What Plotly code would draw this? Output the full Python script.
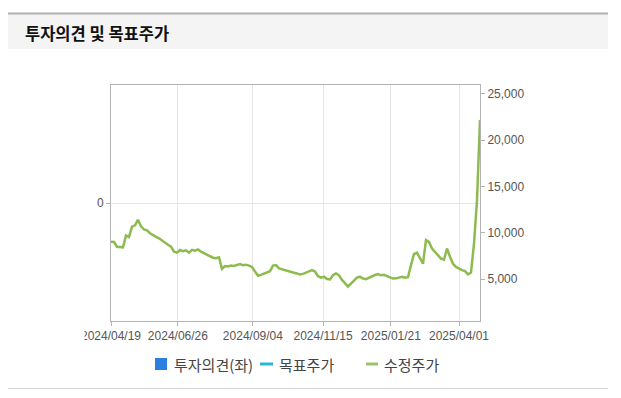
import plotly.graph_objects as go

# ---- data ----
price = [
    9030, 9000, 8490, 8450, 8420, 9700, 9550, 10650, 10800, 11400,
    10700, 10350, 10250, 9950, 9700, 9550, 9400, 9150, 9000, 8700,
    8500, 7950, 7850, 8135, 8000, 8100, 7850, 8150, 8050, 8200,
    7950, 7800, 7650, 7450, 7300, 7240, 7350, 6100, 6400, 6350,
    6450, 6400, 6510, 6620, 6500, 6550, 6450, 6300, 5800, 5350,
    5450, 5600, 5750, 5850, 6450, 6500, 6150, 6050, 5900, 5800,
    5750, 5680, 5600, 5480, 5550, 5700, 5850, 5950, 5800, 5300,
    5150, 5250, 5000, 4950, 5400, 5600, 5400, 4900, 4550, 4170,
    4500, 4850, 5150, 5250, 5050, 4980, 5150, 5250, 5430, 5540,
    5400, 5450, 5300, 5140, 5050, 5070, 5150, 5250, 5150, 5200,
    6500, 7700, 7850, 7200, 6650, 9200, 9000, 8300, 7900, 7500,
    7200, 7100, 8300, 7400, 6650, 6300, 6100, 5950, 5850, 5500,
    5700, 8800, 13500, 22200,
]
tick_pos = [0, 22.3, 47.3, 70.7, 93.3, 116]
tick_labels = ["2024/04/19", "2024/06/26", "2024/09/04", "2024/11/15", "2025/01/21", "2025/04/01"]
right_ticks = [5000, 10000, 15000, 20000, 25000]
legend_names = ["투자의견(좌)", "목표주가", "수정주가"]
title_text = "투자의견 및 목표주가"

idx = list(range(len(price)))

# ---- layout geometry ----
# the page body adds an 8px margin; reference pixel coords are converted below
OFF = 8
W, H = 621 - OFF, 398 - OFF
L, R, T, B = 111 - OFF, 480 - OFF, 85 - OFF, 321 - OFF
PW, PH = R - L, B - T


def xp(px):
    return (px - OFF - L) / PW


def yp(py):
    return (B - (py - OFF)) / PH


GREEN = "#8dbb4e"
BLUE = "#2b7fe0"
CYAN = "#2bb6d8"
AXC = "#b4b4b4"
GRID = "#e6e6e6"
TXT = "#555555"
NUMFONT = dict(family="Liberation Sans, Arial, sans-serif", size=12, color=TXT)
KRFONT = "Noto Sans CJK KR, sans-serif"

fig = go.Figure()
fig.add_trace(go.Scatter(x=[], y=[], yaxis="y", showlegend=False, name=legend_names[0]))
fig.add_trace(go.Scatter(
    x=idx, y=price, yaxis="y2", mode="lines", name=legend_names[2],
    line=dict(color=GREEN, width=2.5), showlegend=False,
    hovertemplate="%{y:,}<extra></extra>",
))

shapes = [
    # header band
    dict(type="rect", xref="paper", yref="paper", x0=xp(8), x1=xp(608), y0=yp(49), y1=yp(14),
         fillcolor="#f4f4f4", line=dict(width=0), layer="below"),
    dict(type="line", xref="paper", yref="paper", x0=xp(8), x1=xp(608), y0=yp(13.5), y1=yp(13.5),
         line=dict(color="#b0b0b0", width=2)),
    dict(type="line", xref="paper", yref="paper", x0=xp(8), x1=xp(608), y0=yp(388.5), y1=yp(388.5),
         line=dict(color="#d2d2d2", width=1)),
    # clip of the first date label as in the reference
    dict(type="rect", xref="paper", yref="paper", x0=xp(8), x1=xp(84.5), y0=yp(346), y1=yp(328),
         fillcolor="white", line=dict(width=0), layer="above"),
    # legend symbols
    dict(type="rect", xref="paper", yref="paper", x0=xp(155), x1=xp(167), y0=yp(370), y1=yp(358),
         fillcolor=BLUE, line=dict(width=0)),
    dict(type="line", xref="paper", yref="paper", x0=xp(260), x1=xp(273), y0=yp(364), y1=yp(364),
         line=dict(color=CYAN, width=3)),
    dict(type="line", xref="paper", yref="paper", x0=xp(366), x1=xp(378), y0=yp(364), y1=yp(364),
         line=dict(color="#9cc46a", width=3)),
]

annotations = [
    dict(text="<b>" + title_text + "</b>", xref="paper", yref="paper", x=xp(23), y=yp(33),
         xanchor="left", yanchor="middle", showarrow=False,
         font=dict(family=KRFONT, size=16.5, color="#111111")),
    dict(text=legend_names[0], xref="paper", yref="paper", x=xp(172), y=yp(364),
         xanchor="left", yanchor="middle", showarrow=False,
         font=dict(family=KRFONT, size=15, color="#444444")),
    dict(text=legend_names[1], xref="paper", yref="paper", x=xp(277), y=yp(364),
         xanchor="left", yanchor="middle", showarrow=False,
         font=dict(family=KRFONT, size=15, color="#444444")),
    dict(text=legend_names[2], xref="paper", yref="paper", x=xp(382), y=yp(364),
         xanchor="left", yanchor="middle", showarrow=False,
         font=dict(family=KRFONT, size=15, color="#444444")),
]

fig.update_layout(
    width=W, height=H, autosize=False,
    margin=dict(l=L, r=W - R, t=T, b=H - B, pad=0),
    paper_bgcolor="white", plot_bgcolor="white",
    showlegend=False,
    shapes=shapes, annotations=annotations,
    xaxis=dict(
        range=[0, len(price) - 1], tickmode="array", tickvals=tick_pos, ticktext=tick_labels,
        showline=True, linecolor=AXC, linewidth=1, mirror=True,
        ticks="outside", ticklen=4, tickcolor=AXC,
        showgrid=True, gridcolor=GRID, gridwidth=1, zeroline=False,
        tickfont=NUMFONT, fixedrange=True,
    ),
    yaxis=dict(
        range=[-1, 1], tickmode="array", tickvals=[0], ticktext=["0"],
        showline=True, linecolor=AXC, linewidth=1,
        ticks="outside", ticklen=4, tickcolor=AXC,
        showgrid=True, gridcolor=GRID, zeroline=False,
        tickfont=NUMFONT, fixedrange=True,
    ),
    yaxis2=dict(
        overlaying="y", side="right", anchor="x",
        range=[460, 25970], tickmode="array", tickvals=right_ticks,
        tickformat=",d",
        showline=True, linecolor=AXC, linewidth=1,
        ticks="outside", ticklen=4, tickcolor=AXC,
        showgrid=False, zeroline=False,
        tickfont=NUMFONT, fixedrange=True,
    ),
)

fig.write_html("out.html")
